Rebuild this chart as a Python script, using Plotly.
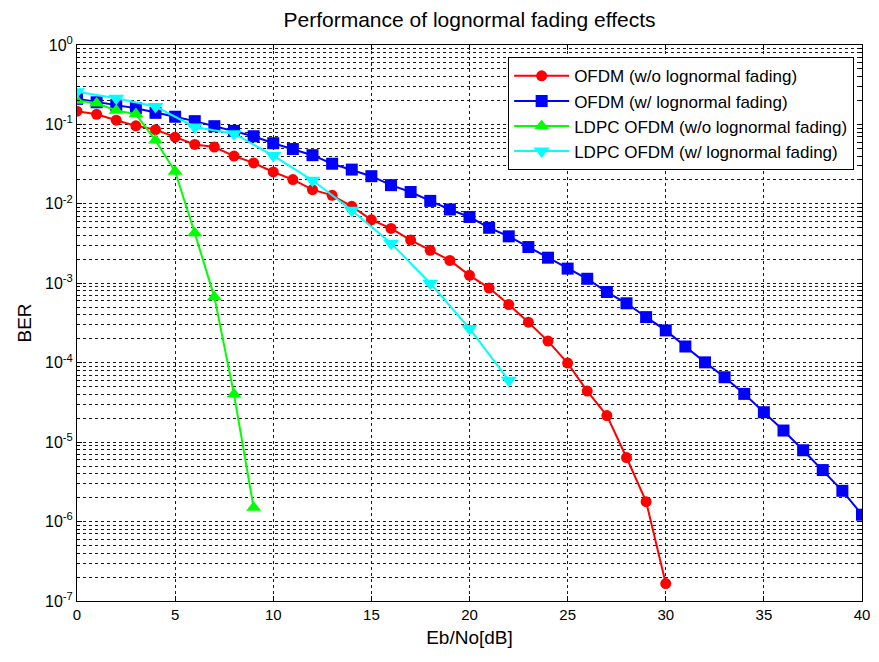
import plotly.graph_objects as go

# ---- data ----
ebno_ofdm = list(range(0, 31))
ber_ofdm_wo = [0.147, 0.134, 0.113, 0.096, 0.086, 0.069, 0.056, 0.052, 0.040, 0.0328,
               0.0252, 0.0202, 0.0151, 0.0128, 0.0093, 6.3e-3, 4.9e-3, 3.5e-3, 2.6e-3, 1.94e-3,
               1.26e-3, 8.7e-4, 5.4e-4, 3.24e-4, 1.87e-4, 9.9e-5, 4.4e-5, 2.16e-5, 6.4e-6, 1.78e-6,
               1.66e-7]

ebno_ofdm_w = list(range(0, 41))
ber_ofdm_w = [0.21, 0.19, 0.175, 0.16, 0.14, 0.125, 0.11, 0.095, 0.083, 0.071,
              0.058, 0.049, 0.041, 0.032, 0.027, 0.0223, 0.0172, 0.0141, 0.0109, 8.5e-3,
              6.84e-3, 5.0e-3, 3.9e-3, 2.86e-3, 2.1e-3, 1.53e-3, 1.14e-3, 7.76e-4, 5.6e-4, 3.75e-4,
              2.55e-4, 1.6e-4, 1.01e-4, 6.56e-5, 4.05e-5, 2.38e-5, 1.4e-5, 7.9e-6, 4.45e-6, 2.44e-6,
              1.22e-6]

ebno_ldpc_wo = list(range(0, 10))
ber_ldpc_wo = [0.20, 0.185, 0.15, 0.135, 0.063, 0.0255, 4.3e-3, 6.7e-4, 4.0e-5, 1.5e-6]

ebno_ldpc_w = list(range(0, 23, 2))
ber_ldpc_w = [0.258, 0.213, 0.168, 0.093, 0.0765, 0.0405, 0.0198, 8.3e-3, 3.2e-3, 1.0e-3,
              2.7e-4, 6.0e-5]

series_names = ["OFDM (w/o lognormal fading)", "OFDM (w/ lognormal fading)",
                "LDPC OFDM (w/o lognormal fading)", "LDPC OFDM (w/ lognormal fading)"]

x_ticks = [0, 5, 10, 15, 20, 25, 30, 35, 40]
y_exps = [0, -1, -2, -3, -4, -5, -6, -7]

FONT = "Liberation Sans, Arial, sans-serif"

fig = go.Figure()
specs = [
    (ebno_ofdm, ber_ofdm_wo, "#ff0000", "circle", 11),
    (ebno_ofdm_w, ber_ofdm_w, "#0000ff", "square", 12),
    (ebno_ldpc_wo, ber_ldpc_wo, "#00ff00", "triangle-up", 13),
    (ebno_ldpc_w, ber_ldpc_w, "#00ffff", "triangle-down", 14),
]
for (xs, ys, col, sym, sz), name in zip(specs, series_names):
    fig.add_trace(go.Scatter(
        x=xs, y=ys, mode="lines+markers", name=name,
        line=dict(color=col, width=2),
        marker=dict(color=col, symbol=sym, size=sz, line=dict(width=0)),
    ))

minor_vals = [m * 10 ** e for e in range(-7, 0) for m in range(2, 10)]

grid_style = dict(gridcolor="#1a1a1a", gridwidth=1, griddash="3px,3px")

fig.update_layout(
    width=879, height=662,
    margin=dict(l=77, r=9, t=45, b=61),
    paper_bgcolor="white", plot_bgcolor="white",
    font=dict(family=FONT, size=15, color="black"),
    title=dict(text="Performance of lognormal fading effects",
               x=0.5, xref="paper", xanchor="center",
               y=1 - 20 / 662, yref="container", yanchor="middle",
               font=dict(family=FONT, size=21, color="black")),
    showlegend=True,
    legend=dict(x=0.99, xanchor="right", y=0.978, yanchor="top",
                bgcolor="white", bordercolor="black", borderwidth=1,
                font=dict(family=FONT, size=17, color="black"),
                itemwidth=55),
)

fig.update_xaxes(
    range=[0, 40], tickvals=x_ticks, ticktext=[str(v) for v in x_ticks],
    showgrid=True, **grid_style,
    showline=True, linecolor="black", linewidth=1, mirror="ticks",
    ticks="inside", ticklen=5, tickcolor="black",
    zeroline=False,
    title=dict(text="Eb/No[dB]", font=dict(family=FONT, size=19), standoff=8),
    tickfont=dict(family=FONT, size=15),
)

fig.update_yaxes(
    type="log", range=[-7, 0],
    tickvals=[10 ** e for e in y_exps],
    ticktext=[f"10<sup>{e}</sup>" for e in y_exps],
    showgrid=True, **grid_style,
    minor=dict(tickvals=minor_vals, showgrid=True, ticks="inside", ticklen=3,
               tickcolor="black", **grid_style),
    showline=True, linecolor="black", linewidth=1, mirror="ticks",
    ticks="inside", ticklen=5, tickcolor="black",
    zeroline=False,
    title=dict(text="BER", font=dict(family=FONT, size=19), standoff=8),
    tickfont=dict(family=FONT, size=16),
)

fig.write_html("out.html")
